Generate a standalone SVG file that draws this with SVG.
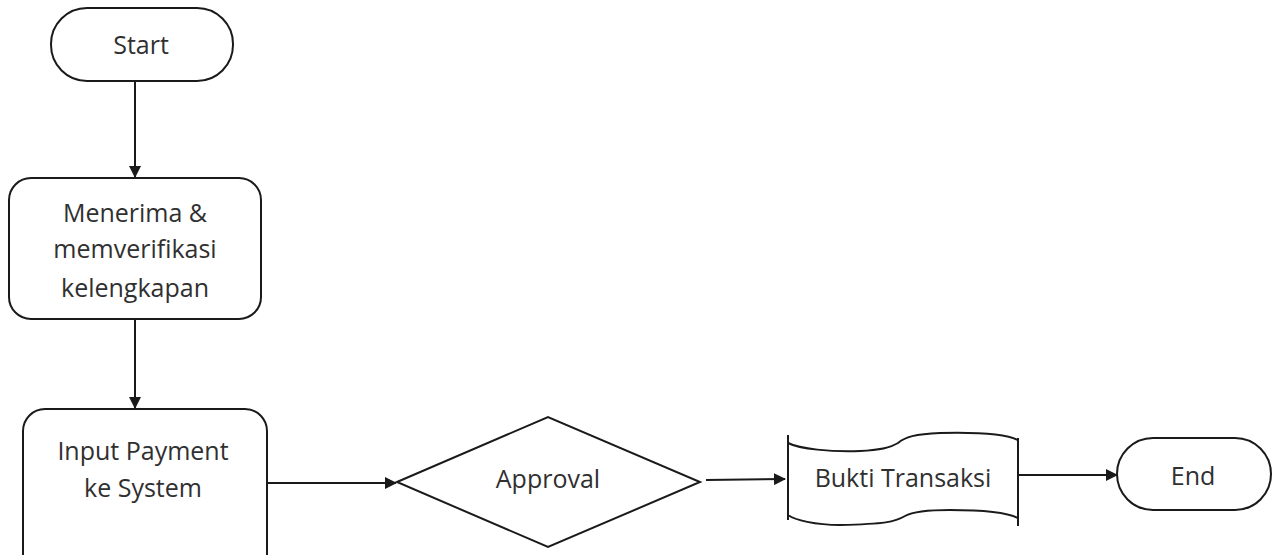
<svg xmlns="http://www.w3.org/2000/svg" width="1279" height="555" viewBox="0 0 1279 555">
  <style>
    .shape { fill: #ffffff; stroke: #1a1a1a; stroke-width: 2; }
    .label { font-family: "Open Sans", "Liberation Sans", sans-serif; font-size: 25px; fill: #303030; text-anchor: middle; }
    .edge { fill: none; stroke: #1a1a1a; stroke-width: 2; }
  </style>
  <defs>
    <marker id="arrow" markerWidth="12" markerHeight="12" refX="11" refY="6" orient="auto" markerUnits="userSpaceOnUse">
      <path d="M0,0 L12,6 L0,12 Z" fill="#1a1a1a"/>
    </marker>
  </defs>
  <rect width="1279" height="555" fill="#ffffff"/>

  <!-- connectors -->
  <g id="connectors">
    <line class="edge" x1="135" y1="81" x2="135" y2="177" marker-end="url(#arrow)"/>
    <line class="edge" x1="135" y1="320" x2="135" y2="408" marker-end="url(#arrow)"/>
    <line class="edge" x1="267" y1="483" x2="396" y2="483" marker-end="url(#arrow)"/>
    <line class="edge" x1="706" y1="480" x2="785" y2="479" marker-end="url(#arrow)"/>
    <line class="edge" x1="1018" y1="475" x2="1117" y2="475" marker-end="url(#arrow)"/>
  </g>

  <g id="start">
    <rect class="shape" x="51" y="8" width="182" height="73" rx="36" ry="36"/>
    <text class="label" x="141" y="54">Start</text>
  </g>

  <g id="verify">
    <rect class="shape" x="9" y="178" width="252" height="141" rx="22" ry="22"/>
    <text class="label" x="135" y="222">Menerima &amp;</text>
    <text class="label" x="135" y="258">memverifikasi</text>
    <text class="label" x="135" y="297">kelengkapan</text>
  </g>

  <g id="input-payment">
    <rect class="shape" x="23" y="409" width="244" height="170" rx="22" ry="22"/>
    <text class="label" x="143" y="460">Input Payment</text>
    <text class="label" x="143" y="497">ke System</text>
  </g>

  <g id="approval">
    <polygon class="shape" points="397,482 548,417 700,482 548,547"/>
    <text class="label" x="548" y="488">Approval</text>
  </g>

  <g id="bukti-transaksi">
    <path class="shape" d="M788,443 C800,449 830,452 860,451 C880,450 890,448 898,443 C905,437 915,434 940,433 C980,432 1008,435 1018,440 L1018,518 C1008,513 985,510 950,510 C925,510 912,512 905,516 C895,522 885,524 840,525 C815,525 795,520 788,515 Z"/>
    <line class="edge" x1="788" y1="435" x2="788" y2="520"/>
    <line class="edge" x1="1018" y1="438" x2="1018" y2="526"/>
    <text class="label" x="903" y="487">Bukti Transaksi</text>
  </g>

  <g id="end">
    <rect class="shape" x="1117" y="438" width="154" height="72" rx="36" ry="36"/>
    <text class="label" x="1193" y="485">End</text>
  </g>
</svg>
